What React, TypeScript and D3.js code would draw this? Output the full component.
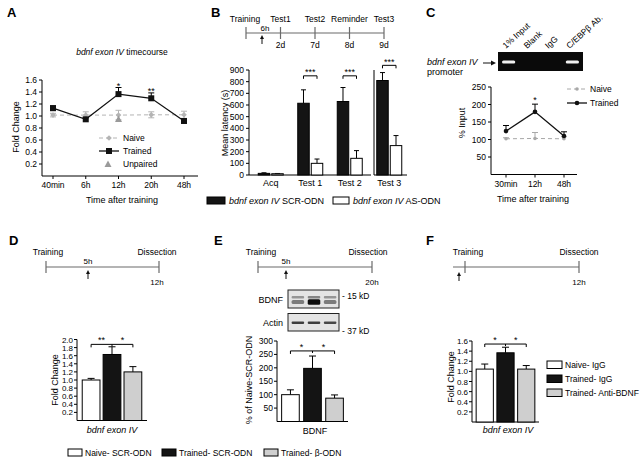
import React from 'react';
import * as d3 from 'd3';

const FONT = '"Liberation Sans", Arial, Helvetica, sans-serif';

// ---------- Panel A data ----------
const aTimes = ['40min', '6h', '12h', '20h', '48h'];
const aTrained = [1.13, 0.945, 1.365, 1.295, 0.917];
const aTrainedErr = [0.04, 0.03, 0.11, 0.09, 0.03];
const aNaive = [1.015, 1.015, 1.015, 1.02, 1.02];
const aNaiveErr = [0.03, 0.055, 0.08, 0.05, 0.06];
const aUnpairedTimes = ['12h'];
const aUnpaired = [0.95];
const aYTicks = [0.2, 0.4, 0.6, 0.8, 1.0, 1.2, 1.4, 1.6];
const aStarTimes = ['12h', '20h'];
const aStarLabels = ['*', '**'];
const aLegend = ['Naive', 'Trained', 'Unpaired'];

// ---------- Panel B data ----------
const bGroups = ['Acq', 'Test 1', 'Test 2', 'Test 3'];
const bSeries = ['SCR-ODN', 'AS-ODN'];
const bSCR = [14, 615, 630, 810];
const bSCRErr = [5, 115, 120, 68];
const bAS = [11, 100, 143, 252];
const bASErr = [2, 37, 66, 86];
const bYTicks = [0, 100, 200, 300, 400, 500, 600, 700, 800, 900];
const bSigGroups = ['Test 1', 'Test 2', 'Test 3'];
const bSigLevels = [850, 850, 940];
const bTimeline = ['Training', 'Test1', 'Test2', 'Reminder', 'Test3'];
const bTimelineDays = ['', '2d', '7d', '8d', '9d'];

// ---------- Panel C data ----------
const cTimes = ['30min', '12h', '48h'];
const cTrained = [124, 179, 110];
const cTrainedErr = [16, 22, 12];
const cNaive = [102, 103, 102];
const cNaiveErr = [3, 17, 6];
const cYTicks = [50, 100, 150, 200, 250];
const cLanes = ['1% Input', 'Blank', 'IgG', 'C/EBPβ Ab.'];
const cLaneBand = [1, 0, 0, 1];

// ---------- Panel D data ----------
const dGroups = ['Naive- SCR-ODN', 'Trained- SCR-ODN', 'Trained- β-ODN'];
const dVals = [1.0, 1.63, 1.2];
const dErr = [0.04, 0.19, 0.13];
const dYTicks = [0.2, 0.4, 0.6, 0.8, 1.0, 1.2, 1.4, 1.6, 1.8, 2.0];
const dStars = ['**', '*'];
const dSigLevel = 1.88;

// ---------- Panel E data ----------
const eVals = [100, 198, 87];
const eErr = [18, 46, 12];
const eYTicks = [50, 100, 150, 200, 250, 300];
const eStars = ['*', '*'];
const eSigLevel = 263;
const eBlotBDNFUpper = [0.45, 0.55, 0.45];
const eBlotBDNFLower = [0.5, 1.0, 0.5];
const eBlotActin = [0.85, 0.85, 0.8];

// ---------- Panel F data ----------
const fGroups = ['Naive- IgG', 'Trained- IgG', 'Trained- Anti-BDNF'];
const fVals = [1.045, 1.367, 1.045];
const fErr = [0.1, 0.11, 0.07];
const fYTicks = [0.2, 0.4, 0.6, 0.8, 1.0, 1.2, 1.4, 1.6];
const fStars = ['*', '*'];
const fSigLevel = 1.54;

const barFills = ['#ffffff', '#141414', '#cfcfcf'];
const TS = 8.5; // tick font size
const LS = 9; // label font size

function Timeline({ x0, x1, y, ticks }: { x0: number; x1: number; y: number; ticks: number[] }) {
  return (
    <g stroke="#6a6a6a" strokeWidth={1.2}>
      <line x1={x0} x2={x1} y1={y} y2={y} />
      {ticks.map((t, i) => (
        <line key={i} x1={t} x2={t} y1={y - 6} y2={y + 6} />
      ))}
    </g>
  );
}

function UpArrow({ x, y }: { x: number; y: number }) {
  return (
    <g>
      <line x1={x} x2={x} y1={y + 3} y2={y + 9} stroke="#111" strokeWidth={1} />
      <path d={`M${x - 2},${y + 4} L${x},${y} L${x + 2},${y + 4} Z`} fill="#111" />
    </g>
  );
}

function ErrUp({ x, y0, y1, w = 3, color = '#000' }: { x: number; y0: number; y1: number; w?: number; color?: string }) {
  return (
    <g stroke={color} strokeWidth={1}>
      <line x1={x} x2={x} y1={y0} y2={y1} />
      <line x1={x - w} x2={x + w} y1={y1} y2={y1} />
    </g>
  );
}

function PanelA() {
  const x = d3.scalePoint<string>().domain(aTimes).range([53, 184]);
  const y = d3.scaleLinear().domain([0, 1.6]).range([176, 80]);
  const line = d3
    .line<number>()
    .x((_, i) => x(aTimes[i])!)
    .y((d) => y(d));
  const naiveCol = '#b4b4b4';
  return (
    <g>
      <text x={7} y={17} fontSize={13} fontWeight="bold">A</text>
      <text x={122} y={55} fontSize={TS} textAnchor="middle">
        <tspan fontStyle="italic">bdnf exon IV</tspan> timecourse
      </text>
      <line x1={42} x2={42} y1={y(1.6)} y2={y(0)} stroke="#000" />
      <line x1={42} x2={198} y1={y(0)} y2={y(0)} stroke="#000" />
      {aYTicks.map((t) => (
        <g key={t}>
          <line x1={39} x2={42} y1={y(t)} y2={y(t)} stroke="#000" />
          <text x={37} y={y(t) + 3} fontSize={TS} textAnchor="end">{t.toFixed(1)}</text>
        </g>
      ))}
      {aTimes.map((t) => (
        <g key={t}>
          <line x1={x(t)} x2={x(t)} y1={y(0)} y2={y(0) + 3} stroke="#000" />
          <text x={x(t)} y={188} fontSize={TS} textAnchor="middle">{t}</text>
        </g>
      ))}
      <text x={122} y={203} fontSize={LS} textAnchor="middle">Time after training</text>
      <text transform="translate(18.5,127) rotate(-90)" fontSize={LS} textAnchor="middle">Fold Change</text>

      {/* naive */}
      {aNaive.map((v, i) => (
        <g key={i} stroke={naiveCol} strokeWidth={1}>
          <line x1={x(aTimes[i])} x2={x(aTimes[i])} y1={y(v - aNaiveErr[i])} y2={y(v + aNaiveErr[i])} />
          <line x1={x(aTimes[i])! - 3} x2={x(aTimes[i])! + 3} y1={y(v + aNaiveErr[i])} y2={y(v + aNaiveErr[i])} />
          <line x1={x(aTimes[i])! - 3} x2={x(aTimes[i])! + 3} y1={y(v - aNaiveErr[i])} y2={y(v - aNaiveErr[i])} />
        </g>
      ))}
      <path d={line(aNaive)!} fill="none" stroke={naiveCol} strokeDasharray="4,3" strokeWidth={1} />
      {aNaive.map((v, i) => (
        <rect key={i} x={x(aTimes[i])! - 2} y={y(v) - 2} width={4} height={4} fill={naiveCol} transform={`rotate(45,${x(aTimes[i])},${y(v)})`} />
      ))}
      {/* unpaired */}
      {aUnpaired.map((v, i) => {
        const cx = x(aUnpairedTimes[i])!;
        const cy = y(v);
        return <path key={i} d={`M${cx - 3.5},${cy + 3} L${cx},${cy - 3.5} L${cx + 3.5},${cy + 3} Z`} fill="#9a9a9a" />;
      })}
      {/* trained */}
      {aTrained.map((v, i) => (
        <ErrUp key={i} x={x(aTimes[i])!} y0={y(v)} y1={y(v + aTrainedErr[i])} />
      ))}
      <path d={line(aTrained)!} fill="none" stroke="#111" strokeWidth={1.3} />
      {aTrained.map((v, i) => (
        <rect key={i} x={x(aTimes[i])! - 3} y={y(v) - 3} width={6} height={6} fill="#111" />
      ))}
      {aStarTimes.map((t, i) => {
        const idx = aTimes.indexOf(t);
        return (
          <text key={t} x={x(t)} y={y(aTrained[idx] + aTrainedErr[idx]) + 1} fontSize={9} textAnchor="middle">{aStarLabels[i]}</text>
        );
      })}
      {/* legend */}
      {aLegend.map((l, i) => {
        const ly = 138 + i * 13;
        return (
          <g key={l}>
            {i === 0 && (
              <g>
                <line x1={99} x2={119} y1={ly} y2={ly} stroke={naiveCol} strokeDasharray="4,3" />
                <rect x={107} y={ly - 2} width={4} height={4} fill={naiveCol} transform={`rotate(45,109,${ly})`} />
              </g>
            )}
            {i === 1 && (
              <g>
                <line x1={99} x2={119} y1={ly} y2={ly} stroke="#111" strokeWidth={1.3} />
                <rect x={106} y={ly - 3} width={6} height={6} fill="#111" />
              </g>
            )}
            {i === 2 && <path d={`M${104.5},${ly + 3} L108,${ly - 3.5} L111.5,${ly + 3} Z`} fill="#9a9a9a" />}
            <text x={123} y={ly + 3} fontSize={TS}>{l}</text>
          </g>
        );
      })}
    </g>
  );
}

function PanelB() {
  const tl = d3.scalePoint<string>().domain(bTimeline).range([246, 384]);
  const x0 = d3.scaleBand<string>().domain(bGroups).range([251, 409]);
  const x1 = d3.scaleBand<string>().domain(bSeries).range([-12.5, 12.5]).paddingInner(0.15);
  const y = d3.scaleLinear().domain([0, 900]).range([175, 70]);
  const seriesVals = [bSCR, bAS];
  const seriesErr = [bSCRErr, bASErr];
  const breakX = x0('Test 3')!;
  return (
    <g>
      <text x={211} y={17} fontSize={13} fontWeight="bold">B</text>
      {/* timeline */}
      <Timeline x0={tl('Training')!} x1={tl('Test3')!} y={33} ticks={bTimeline.map((t) => tl(t)!)} />
      {bTimeline.map((t, i) => (
        <g key={t}>
          <text x={tl(t)! + (i === 0 ? -1 : 0)} y={22} fontSize={TS} textAnchor="middle">{t}</text>
          {bTimelineDays[i] && <text x={tl(t)} y={48} fontSize={TS} textAnchor="middle">{bTimelineDays[i]}</text>}
        </g>
      ))}
      <text x={265} y={31} fontSize={TS - 0.5} textAnchor="middle">6h</text>
      <UpArrow x={262} y={35} />
      {/* axes */}
      <line x1={249} x2={249} y1={y(900)} y2={y(0)} stroke="#000" />
      <line x1={249} x2={breakX + 1.5} y1={y(0)} y2={y(0)} stroke="#000" />
      <line x1={breakX + 4.5} x2={breakX + 4.5} y1={y(900)} y2={y(0)} stroke="#000" />
      <line x1={breakX + 4.5} x2={407} y1={y(0)} y2={y(0)} stroke="#000" />
      {bYTicks.map((t) => (
        <g key={t}>
          <line x1={246} x2={249} y1={y(t)} y2={y(t)} stroke="#000" />
          <text x={244} y={y(t) + 3} fontSize={TS} textAnchor="end">{t}</text>
        </g>
      ))}
      <text transform="translate(228,123) rotate(-90)" fontSize={LS} textAnchor="middle">Mean latency (s)</text>
      {bGroups.map((g, gi) => (
        <g key={g}>
          {bSeries.map((s, si) => {
            const bx = x0(g)! + x0.bandwidth() / 2 + x1(s)!;
            const v = seriesVals[si][gi];
            const e = seriesErr[si][gi];
            return (
              <g key={s}>
                <ErrUp x={bx + x1.bandwidth() / 2} y0={y(v)} y1={y(v + e)} w={2.5} />
                <rect x={bx} y={y(v)} width={x1.bandwidth()} height={y(0) - y(v)} fill={si === 0 ? '#141414' : '#fff'} stroke="#000" strokeWidth={1} />
              </g>
            );
          })}
          <text x={x0(g)! + x0.bandwidth() / 2} y={186} fontSize={LS} textAnchor="middle">{g}</text>
        </g>
      ))}
      {bSigGroups.map((g, i) => {
        const c = x0(g)! + x0.bandwidth() / 2;
        const xa = c + x1(bSeries[0])! + x1.bandwidth() / 2;
        const xb = c + x1(bSeries[1])! + x1.bandwidth() / 2;
        const yy = y(bSigLevels[i]);
        return (
          <g key={g}>
            <path d={`M${xa},${yy + 3} L${xa},${yy} L${xb},${yy} L${xb},${yy + 3}`} fill="none" stroke="#000" />
            <text x={(xa + xb) / 2} y={yy - 0.5} fontSize={9} textAnchor="middle">***</text>
          </g>
        );
      })}
      {/* legend */}
      <rect x={207} y={197} width={18} height={7} fill="#141414" stroke="#000" />
      <text x={229} y={204} fontSize={LS}>
        <tspan fontStyle="italic">bdnf exon IV</tspan> SCR-ODN
      </text>
      <rect x={333} y={197} width={16} height={7} fill="#fff" stroke="#000" />
      <text x={353} y={204} fontSize={LS}>
        <tspan fontStyle="italic">bdnf exon IV</tspan> AS-ODN
      </text>
    </g>
  );
}

function PanelC() {
  const x = d3.scalePoint<string>().domain(cTimes).range([506, 564]);
  const y = d3.scaleLinear().domain([0, 250]).range([174.5, 87]);
  const line = d3
    .line<number>()
    .x((_, i) => x(cTimes[i])!)
    .y((d) => y(d));
  const lanes = d3.scaleBand<string>().domain(cLanes).range([498, 583]);
  const naiveCol = '#a8a8a8';
  return (
    <g>
      <text x={426} y={17} fontSize={13} fontWeight="bold">C</text>
      {/* gel */}
      <rect x={498} y={52} width={85} height={19} fill="#0a0a0a" />
      {cLanes.map((l, i) => (
        <g key={l}>
          {cLaneBand[i] > 0 && (
            <rect x={lanes(l)! + 4} y={60.5} width={lanes.bandwidth() - 8} height={3} rx={1.5} fill="#f0f0f0" filter="url(#blur)" />
          )}
          <text transform={`translate(${lanes(l)! + lanes.bandwidth() / 2 - 3},49) rotate(-42)`} fontSize={8.5}>{l}</text>
        </g>
      ))}
      <text x={427} y={65} fontSize={LS} fontStyle="italic">bdnf exon IV</text>
      <text x={427} y={75} fontSize={LS}>promoter</text>
      <line x1={483} x2={493} y1={63} y2={63} stroke="#111" />
      <path d="M491,60.5 L496,63 L491,65.5 Z" fill="#111" />
      {/* axes */}
      <line x1={491} x2={491} y1={y(250)} y2={y(0)} stroke="#000" />
      <line x1={491} x2={577} y1={y(0)} y2={y(0)} stroke="#000" />
      {cYTicks.map((t) => (
        <g key={t}>
          <line x1={488} x2={491} y1={y(t)} y2={y(t)} stroke="#000" />
          <text x={486} y={y(t) + 3} fontSize={TS} textAnchor="end">{t}</text>
        </g>
      ))}
      {cTimes.map((t) => (
        <g key={t}>
          <line x1={x(t)} x2={x(t)} y1={y(0)} y2={y(0) + 3} stroke="#000" />
          <text x={x(t)} y={187} fontSize={TS} textAnchor="middle">{t}</text>
        </g>
      ))}
      <text x={533} y={202} fontSize={LS} textAnchor="middle">Time after training</text>
      <text transform="translate(465,123) rotate(-90)" fontSize={LS} textAnchor="middle">% Input</text>
      {/* naive */}
      {cNaive.map((v, i) => (
        <ErrUp key={i} x={x(cTimes[i])!} y0={y(v)} y1={y(v + cNaiveErr[i])} color={naiveCol} />
      ))}
      <path d={line(cNaive)!} fill="none" stroke={naiveCol} strokeDasharray="4,3" />
      {cNaive.map((v, i) => (
        <circle key={i} cx={x(cTimes[i])} cy={y(v)} r={1.8} fill={naiveCol} />
      ))}
      {/* trained */}
      {cTrained.map((v, i) => (
        <ErrUp key={i} x={x(cTimes[i])!} y0={y(v)} y1={y(v + cTrainedErr[i])} />
      ))}
      <path d={line(cTrained)!} fill="none" stroke="#111" strokeWidth={1.3} />
      {cTrained.map((v, i) => (
        <circle key={i} cx={x(cTimes[i])} cy={y(v)} r={2.3} fill="#111" />
      ))}
      <text x={x('12h')} y={y(cTrained[1] + cTrainedErr[1]) - 1} fontSize={9} textAnchor="middle">*</text>
      {/* legend */}
      <line x1={567} x2={587} y1={89} y2={89} stroke={naiveCol} strokeDasharray="4,3" />
      <circle cx={577} cy={89} r={1.8} fill={naiveCol} />
      <text x={590} y={92} fontSize={TS}>Naive</text>
      <line x1={567} x2={587} y1={103} y2={103} stroke="#111" strokeWidth={1.3} />
      <circle cx={577} cy={103} r={2.3} fill="#111" />
      <text x={590} y={106} fontSize={TS}>Trained</text>
    </g>
  );
}

type BarProps = {
  groups: string[];
  vals: number[];
  errs: number[];
  yMax: number;
  yTicks: number[];
  fmt: (v: number) => string;
  axisX: number;
  axisEnd: number;
  y0: number;
  yTop: number;
  padIn: number;
  padOut: number;
  sig: number;
  stars: string[];
  tickFont?: number;
};

function Bars(p: BarProps) {
  const x = d3.scaleBand<string>().domain(p.groups).range([p.axisX, p.axisEnd]).paddingInner(p.padIn).paddingOuter(p.padOut);
  const y = d3.scaleLinear().domain([0, p.yMax]).range([p.y0, p.yTop]);
  const cx = (i: number) => x(p.groups[i])! + x.bandwidth() / 2;
  const sy = y(p.sig);
  const tf = p.tickFont ?? TS;
  return (
    <g>
      <line x1={p.axisX} x2={p.axisX} y1={y(p.yMax)} y2={y(0)} stroke="#000" />
      <line x1={p.axisX} x2={p.axisEnd} y1={y(0)} y2={y(0)} stroke="#000" />
      {p.yTicks.map((t) => (
        <g key={t}>
          <line x1={p.axisX - 3} x2={p.axisX} y1={y(t)} y2={y(t)} stroke="#000" />
          <text x={p.axisX - 4} y={y(t) + 3} fontSize={tf} textAnchor="end">{p.fmt(t)}</text>
        </g>
      ))}
      {p.groups.map((g, i) => (
        <g key={g}>
          <ErrUp x={cx(i)} y0={y(p.vals[i])} y1={y(p.vals[i] + p.errs[i])} w={3.5} />
          <rect x={x(g)} y={y(p.vals[i])} width={x.bandwidth()} height={y(0) - y(p.vals[i])} fill={barFills[i]} stroke="#000" strokeWidth={1} />
        </g>
      ))}
      <path d={`M${cx(0)},${sy + 3} L${cx(0)},${sy} L${cx(2)},${sy} L${cx(2)},${sy + 3} M${cx(1)},${sy} L${cx(1)},${sy + 2}`} fill="none" stroke="#000" />
      <text x={(cx(0) + cx(1)) / 2} y={sy - 1} fontSize={9} textAnchor="middle">{p.stars[0]}</text>
      <text x={(cx(1) + cx(2)) / 2} y={sy - 1} fontSize={9} textAnchor="middle">{p.stars[1]}</text>
    </g>
  );
}

function PanelD() {
  return (
    <g>
      <text x={9} y={245} fontSize={13} fontWeight="bold">D</text>
      <text x={48} y={255} fontSize={TS} textAnchor="middle">Training</text>
      <text x={157} y={255} fontSize={TS} textAnchor="middle">Dissection</text>
      <Timeline x0={46} x1={159} y={267} ticks={[46, 159]} />
      <text x={88} y={264} fontSize={TS - 0.5} textAnchor="middle">5h</text>
      <UpArrow x={88} y={270} />
      <text x={157} y={285} fontSize={TS - 0.5} textAnchor="middle">12h</text>
      <Bars groups={dGroups} vals={dVals} errs={dErr} yMax={2.0} yTicks={dYTicks} fmt={(v) => v.toFixed(1)} axisX={77} axisEnd={147} y0={420.5} yTop={339.5} padIn={0.15} padOut={0.25} sig={dSigLevel} stars={dStars} tickFont={8} />
      <text transform="translate(58,380) rotate(-90)" fontSize={LS} textAnchor="middle">Fold Change</text>
      <text x={112} y={433} fontSize={LS} textAnchor="middle" fontStyle="italic">bdnf exon IV</text>
    </g>
  );
}

function PanelE() {
  const lanes = d3.scaleBand<string>().domain(dGroups).range([289, 339]).paddingInner(0.1).paddingOuter(0.1);
  return (
    <g>
      <text x={214} y={245} fontSize={13} fontWeight="bold">E</text>
      <text x={261} y={255} fontSize={TS} textAnchor="middle">Training</text>
      <text x={368} y={255} fontSize={TS} textAnchor="middle">Dissection</text>
      <Timeline x0={258} x1={372} y={267} ticks={[258, 372]} />
      <text x={286} y={264} fontSize={TS - 0.5} textAnchor="middle">5h</text>
      <UpArrow x={286} y={270} />
      <text x={372} y={285} fontSize={TS - 0.5} textAnchor="middle">20h</text>
      {/* blots */}
      <rect x={288} y={290} width={51} height={18} fill="#e4e4e4" stroke="#222" />
      <rect x={288} y={313.5} width={51} height={17.5} fill="#e4e4e4" stroke="#222" />
      <g filter="url(#blur)">
        {dGroups.map((g, i) => (
          <g key={g}>
            <rect x={lanes(g)! + 1} y={296} width={lanes.bandwidth() - 2} height={2.5} rx={1} fill="#333" opacity={eBlotBDNFUpper[i]} />
            <rect x={lanes(g)! + 1} y={300.5 - eBlotBDNFLower[i] * 1.2} width={lanes.bandwidth() - 2} height={2.5 + eBlotBDNFLower[i] * 3} rx={1.5} fill="#111" opacity={eBlotBDNFLower[i]} />
            <rect x={lanes(g)! + 1} y={321.5} width={lanes.bandwidth() - 2} height={2.5} rx={1} fill="#222" opacity={eBlotActin[i]} />
          </g>
        ))}
      </g>
      <text x={283} y={303} fontSize={LS} textAnchor="end">BDNF</text>
      <text x={283} y={326} fontSize={LS} textAnchor="end">Actin</text>
      <text x={342} y={299} fontSize={TS}>- 15 kD</text>
      <text x={342} y={334} fontSize={TS}>- 37 kD</text>
      <Bars groups={dGroups} vals={eVals} errs={eErr} yMax={300} yTicks={eYTicks} fmt={(v) => String(v)} axisX={277} axisEnd={348} y0={421.5} yTop={341} padIn={0.2} padOut={0.21} sig={eSigLevel} stars={eStars} />
      <text transform="translate(251.5,380) rotate(-90)" fontSize={LS} textAnchor="middle">% of Naive-SCR-ODN</text>
      <text x={315} y={434} fontSize={LS} textAnchor="middle">BDNF</text>
      {/* bottom legend */}
      {dGroups.map((g, i) => {
        const lx = [68, 162, 264][i];
        return (
          <g key={g}>
            <rect x={lx} y={449} width={14} height={7} fill={barFills[i]} stroke="#000" />
            <text x={lx + 17} y={456} fontSize={TS}>{g}</text>
          </g>
        );
      })}
    </g>
  );
}

function PanelF() {
  return (
    <g>
      <text x={426} y={245} fontSize={13} fontWeight="bold">F</text>
      <text x={468} y={255} fontSize={TS} textAnchor="middle">Training</text>
      <text x={579} y={255} fontSize={TS} textAnchor="middle">Dissection</text>
      <Timeline x0={453} x1={579} y={267} ticks={[465, 579]} />
      <UpArrow x={459} y={272} />
      <text x={579} y={285} fontSize={TS - 0.5} textAnchor="middle">12h</text>
      <Bars groups={fGroups} vals={fVals} errs={fErr} yMax={1.6} yTicks={fYTicks} fmt={(v) => v.toFixed(1)} axisX={472} axisEnd={539} y0={422} yTop={341} padIn={0.17} padOut={0.2} sig={fSigLevel} stars={fStars} tickFont={8} />
      <text transform="translate(454,377) rotate(-90)" fontSize={LS} textAnchor="middle">Fold Change</text>
      <text x={508} y={433} fontSize={LS} textAnchor="middle" fontStyle="italic">bdnf exon IV</text>
      {fGroups.map((g, i) => (
        <g key={g}>
          <rect x={547} y={361 + i * 14} width={15} height={7.5} fill={barFills[i]} stroke="#000" />
          <text x={565} y={368 + i * 14} fontSize={TS}>{g}</text>
        </g>
      ))}
    </g>
  );
}

export default function App() {
  return (
    <svg width={640} height={457} style={{ position: 'absolute', left: 0, top: 0, background: '#fff' }} fontFamily={FONT}>
      <defs>
        <filter id="blur" x="-20%" y="-50%" width="140%" height="200%">
          <feGaussianBlur stdDeviation="0.7" />
        </filter>
      </defs>
      <PanelA />
      <PanelB />
      <PanelC />
      <PanelD />
      <PanelE />
      <PanelF />
    </svg>
  );
}
